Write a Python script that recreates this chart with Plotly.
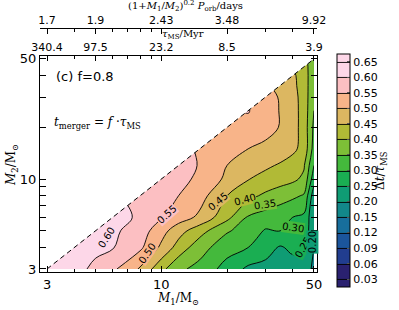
import numpy as np
import plotly.graph_objects as go

# ---------------- data ----------------
M1 = [3, 4, 5, 6, 8, 10, 12, 15, 20, 25, 30, 35, 40, 45, 50]
M2 = [3, 4, 5, 6, 8, 10, 12, 15, 20, 25, 30, 35, 40, 45, 50]
N = np.nan
# rows: M2 value, columns: M1 value (dt / tau_MS); NaN where M2 > M1
r03 = [0.64, 0.615, 0.59, 0.56, 0.495, 0.415, 0.36, 0.335, 0.28, 0.24, 0.235, 0.23, 0.23, 0.225, 0.19]
r04 = [N, 0.625, 0.61, 0.603, 0.56, 0.49, 0.43, 0.37, 0.32, 0.30, 0.27, 0.245, 0.26, 0.255, 0.20]
r05 = [N, N, 0.63, 0.61, 0.575, 0.52, 0.47, 0.42, 0.355, 0.33, 0.295, 0.30, 0.30, 0.285, 0.21]
r06 = [N, N, N, 0.625, 0.59, 0.555, 0.525, 0.49, 0.415, 0.345, 0.33, 0.315, 0.30, 0.29, 0.21]
r08 = [N, N, N, N, 0.59, 0.575, 0.55, 0.52, 0.45, 0.415, 0.39, 0.375, 0.36, 0.345, 0.22]
r10 = [N, N, N, N, N, 0.59, 0.565, 0.54, 0.49, 0.452, 0.435, 0.42, 0.41, 0.39, 0.27]
r12 = [N, N, N, N, N, N, 0.585, 0.545, 0.50, 0.475, 0.458, 0.445, 0.43, 0.405, 0.30]
r15 = [N, N, N, N, N, N, N, 0.545, 0.525, 0.50, 0.49, 0.475, 0.46, 0.435, 0.33]
r20 = [N, N, N, N, N, N, N, N, 0.54, 0.535, 0.515, 0.498, 0.47, 0.43, 0.34]
r25 = [N, N, N, N, N, N, N, N, N, 0.553, 0.52, 0.498, 0.47, 0.43, 0.35]
r30 = [N, N, N, N, N, N, N, N, N, N, 0.515, 0.497, 0.468, 0.43, 0.355]
r35 = [N, N, N, N, N, N, N, N, N, N, N, 0.49, 0.462, 0.428, 0.36]
r40 = [N, N, N, N, N, N, N, N, N, N, N, N, 0.46, 0.425, 0.365]
r45 = [N, N, N, N, N, N, N, N, N, N, N, N, N, 0.42, 0.37]
r50 = [N, N, N, N, N, N, N, N, N, N, N, N, N, N, 0.375]
rows = [r03, r04, r05, r06, r08, r10, r12, r15, r20, r25, r30, r35, r40, r45, r50]

levels = [0.03, 0.06, 0.09, 0.12, 0.15, 0.20, 0.25, 0.30, 0.35, 0.40, 0.45, 0.50, 0.55, 0.60, 0.65]
level_text = ["0.03", "0.06", "0.09", "0.12", "0.15", "0.20", "0.25", "0.30", "0.35",
              "0.40", "0.45", "0.50", "0.55", "0.60", "0.65"]
band_colors = ["#2a2170", "#213d8f", "#1b559c", "#176e9c", "#12878a", "#0f9c74", "#1aae52",
               "#44b93c", "#7dbf37", "#b1ba36", "#dcb761", "#f8b489", "#fcbfc2", "#fdd7e8"]

major_ticks = [3, 10, 50]
minor_ticks = [4, 5, 6, 7, 8, 9, 20, 30, 40]
top_ticks = [3, 5, 10, 20, 50]
top_minor = [4, 6, 7, 8, 9, 30, 40]
tau_labels = ["340.4", "97.5", "23.2", "8.5", "3.9"]
porb_labels = ["1.7", "1.9", "2.43", "3.48", "9.92"]

contour_labels = [  # (level index, M1, M2, angle)
    (13, 5.6, 4.6, -58), (12, 10.6, 6.2, -42), (11, 8.6, 3.7, -55),
    (10, 18.2, 7.4, -40), (9, 24.2, 7.6, -15), (8, 29.9, 7.1, -8),
    (7, 40.0, 5.2, 8), (6, 44.6, 4.0, -60), (5, 49.0, 4.3, -90),
]

# ---------------- figure ----------------
W, H = 399, 310
L, R, T, B = 40, 317, 28, 300          # paper area in pixels
PLOT_TOP, PLOT_BOT = 56, 272
def px(x):
    return (x - L) / (R - L)
def py(y):
    return (B - y) / (B - T)

lx = np.log10(M1)
ly = np.log10(M2)
z = np.array(rows, dtype=float)
zi = np.interp(z, levels, np.arange(len(levels)))
zi[np.isnan(z)] = np.nan

nb = len(band_colors)
colorscale = [[0.0, band_colors[0]]]
for j, c in enumerate(band_colors):
    colorscale.append([(j + 1) / (nb + 1), c])
colorscale.append([1.0, band_colors[-1]])

xr = [0.445, 1.713]
yr = [0.4596, 1.716]

fig = go.Figure()
fig.add_trace(go.Contour(
    x=lx, y=ly, z=zi,
    contours=dict(start=0, end=len(levels) - 1, size=1, coloring="fill", showlines=True),
    line=dict(color="black", width=0.9),
    colorscale=colorscale,
    colorbar=dict(
        tickvals=list(range(len(levels))), ticktext=level_text,
        x=px(337), xanchor="left", y=py(287), yanchor="bottom",
        len=233, lenmode="pixels", thickness=13, thicknessmode="pixels",
        outlinewidth=1, outlinecolor="black", xpad=0, ypad=0,
        ticks="inside", ticklen=3, tickcolor="#555",
        tickfont=dict(family="DejaVu Sans", size=11, color="black"),
    ),
    hoverinfo="skip",
))
# white mask above the diagonal (M2 > M1 is not physical)
fig.add_trace(go.Scatter(
    x=[lx[0], lx[-1], lx[0], lx[0]], y=[ly[0], ly[-1], ly[-1], ly[0]],
    fill="toself", fillcolor="white", mode="lines", line=dict(width=0, color="white"),
    hoverinfo="skip", showlegend=False))
fig.add_trace(go.Scatter(
    x=[lx[0], lx[-1]], y=[ly[0], ly[-1]], mode="lines",
    line=dict(color="black", width=1, dash="5px,3.5px"), hoverinfo="skip", showlegend=False))
# dummy traces for the top axes
for ax in ["x2", "x3"]:
    fig.add_trace(go.Scatter(x=[lx[0], lx[-1]], y=[ly[0], ly[0]], xaxis=ax, yaxis="y",
                             mode="markers", marker=dict(opacity=0), hoverinfo="skip",
                             showlegend=False))

tickfont = dict(family="DejaVu Sans", size=13, color="black")
topfont = dict(family="DejaVu Sans", size=11, color="black")
common = dict(showgrid=False, zeroline=False, showline=True, linecolor="black", linewidth=1,
              automargin=False)

fig.update_layout(
    width=W, height=H, margin=dict(l=L, r=W - R, t=T, b=H - B),
    paper_bgcolor="white", plot_bgcolor="white", showlegend=False,
    xaxis=dict(range=xr, tickvals=np.log10(major_ticks), ticktext=[str(v) for v in major_ticks],
               ticks="inside", ticklen=6, tickcolor="black", tickfont=tickfont, mirror=True,
               minor=dict(tickvals=np.log10(minor_ticks), ticks="inside", ticklen=3, tickcolor="black"),
               **common),
    xaxis2=dict(range=xr, overlaying="x", side="top", anchor="y",
                tickvals=np.log10(top_ticks), ticktext=tau_labels, ticks="inside", ticklen=5,
                tickcolor="black", tickfont=topfont,
                minor=dict(tickvals=np.log10(top_minor), ticks="inside", ticklen=3, tickcolor="black"),
                **common),
    xaxis3=dict(range=xr, overlaying="x", side="top", anchor="free", position=1.0,
                tickvals=np.log10(top_ticks), ticktext=porb_labels, ticks="inside", ticklen=5,
                tickcolor="black", tickfont=topfont,
                minor=dict(tickvals=np.log10(top_minor), ticks="inside", ticklen=3, tickcolor="black"),
                **common),
    yaxis=dict(range=yr, domain=[py(PLOT_BOT), py(PLOT_TOP)], tickvals=np.log10(major_ticks),
               ticktext=[str(v) for v in major_ticks], ticks="inside", ticklen=6, tickcolor="black",
               tickfont=tickfont, mirror="allticks",
               minor=dict(tickvals=np.log10(minor_ticks), ticks="inside", ticklen=3, tickcolor="black"),
               **common),
)

serif = "DejaVu Serif"
def note(x, y, text, size, family=serif, angle=0, xanchor="center"):
    return dict(x=px(x), y=py(y), xref="paper", yref="paper", text=text, showarrow=False,
                textangle=angle, xanchor=xanchor, yanchor="middle",
                font=dict(family=family, size=size, color="black"))

ann = [
    note(178, 299, "<i>M</i><sub>1</sub>/M<sub>⊙</sub>", 12),
    note(12, 165, "<i>M</i><sub>2</sub>/M<sub>⊙</sub>", 12, angle=-90),
    note(185, 6, "(1+<i>M</i><sub>1</sub>/<i>M</i><sub>2</sub>)<sup>0.2</sup> <i>P</i><sub>orb</sub>/days", 10),
    note(183, 34, "<i>τ</i><sub>MS</sub>/Myr", 10),
    note(54, 76, "(c) f=0.8", 13, family="DejaVu Sans", xanchor="left"),
    note(52, 123, "<i>t</i><sub>merger</sub> = <i>f</i> ·<i>τ</i><sub>MS</sub>", 12, xanchor="left"),
    note(381, 171, "Δ<i>t</i>/<i>τ</i><sub>MS</sub>", 12, angle=-90),
]
for k, m1, m2, ang in contour_labels:
    ann.append(dict(x=np.log10(m1), y=np.log10(m2), xref="x", yref="y", text=level_text[k],
                    textangle=ang, showarrow=False, bgcolor=band_colors[min(k, nb - 1)],
                    borderpad=0, xanchor="center", yanchor="middle",
                    font=dict(family="DejaVu Sans", size=10, color="black")))
fig.update_layout(annotations=ann)

fig.write_html("out.html", post_script="document.body.style.margin='0';",
               config={"displayModeBar": False})
